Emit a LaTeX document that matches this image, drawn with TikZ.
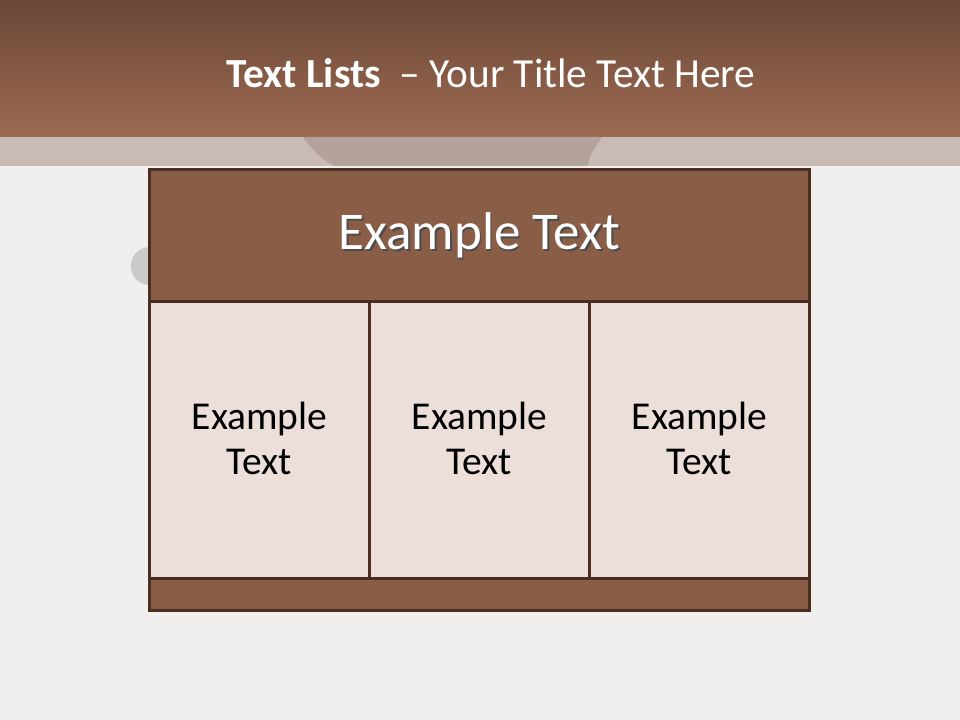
\documentclass[tikz,border=0pt]{standalone}
\usepackage{fontspec}
\setmainfont{Carlito}
\usetikzlibrary{positioning,calc}

\definecolor{pagebg}{HTML}{F0EFEE}
\definecolor{bandbg}{HTML}{C9BCB7}
\definecolor{bandshade}{HTML}{B3A39C}
\definecolor{blobgrey}{HTML}{CACACA}
\definecolor{titletop}{HTML}{6A4837}
\definecolor{titlebot}{HTML}{9E6A52}
\definecolor{boxbrown}{HTML}{8A5D46}
\definecolor{boxline}{HTML}{4A2E22}
\definecolor{cellpink}{HTML}{ECDFDA}

\begin{document}
\begin{tikzpicture}[
  x=0.75pt, y=-0.75pt,
  tablebox/.style={draw=boxline, line width=2.25pt, inner sep=0pt, anchor=north west},
  headbox/.style={tablebox, fill=boxbrown, minimum width=495pt, minimum height=99pt},
  cellbox/.style={tablebox, fill=cellpink, minimum width=165pt, minimum height=207.75pt},
  footbox/.style={tablebox, fill=boxbrown, minimum width=495pt, minimum height=24pt},
  headtext/.style={font=\fontsize{39.8}{46}\selectfont, text=white},
  celltext/.style={font=\fontsize{29.6}{34}\selectfont, align=center, text=black},
  titletext/.style={font=\fontsize{31}{36}\selectfont, text=white, anchor=base}
]
  \useasboundingbox (0,0) rectangle (960,720);
  \fill[pagebg] (0,0) rectangle (960,720);

  % faint backdrop
  \fill[bandbg] (0,137) rectangle (960,166);
  \fill[bandshade] (303,137) .. controls (312,150) and (322,160) .. (335,166)
        -- (588,166) -- (590,156) -- (602,137) -- cycle;
  \fill[blobgrey] (148,247) .. controls (136,249) and (131,258) .. (131,266)
        .. controls (131,276) and (138,284) .. (148,285) -- cycle;

  % title bar
  \shade[top color=titletop, bottom color=titlebot] (0,0) rectangle (960,137);
  \node[titletext] (title) at (491,88)
       {\textbf{Text Lists}\ \ – Your Title Text Here};

  % table
  \node[headbox] (head) at (148,168) {};
  \node[cellbox] (cellA) at (148,300) {};
  \node[cellbox] (cellB) at (368,300) {};
  \node[cellbox] (cellC) at (588,300) {};
  \node[footbox] (foot) at (148,577) {};

  \node[headtext, text=black!70] at ([xshift=1.2pt, yshift=-1.2pt]head.center) {Example Text};
  \node[headtext] (headlabel) at (head.center) {Example Text};
  \foreach \c in {cellA,cellB,cellC}{
    \node[celltext] (\c label) at ([yshift=1pt]\c.center) {Example\\Text};
  }
\end{tikzpicture}
\end{document}
